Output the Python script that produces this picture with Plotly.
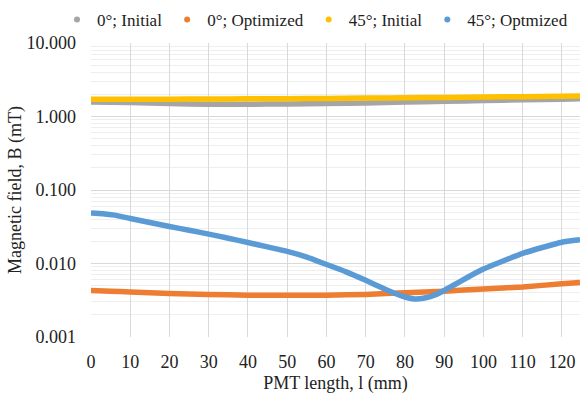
import plotly.graph_objects as go

# PMT length positions (mm)
x_init = [0, 10, 20, 30, 40, 50, 60, 70, 80, 90, 100, 110, 120, 124.6]
b0_initial = [1.58, 1.55, 1.50, 1.47, 1.47, 1.48, 1.50, 1.53, 1.57, 1.61, 1.65, 1.69, 1.72, 1.74]
b45_initial = [1.72, 1.72, 1.72, 1.73, 1.74, 1.75, 1.76, 1.78, 1.80, 1.82, 1.84, 1.86, 1.89, 1.90]

x_opt0 = [0, 5, 10, 20, 30, 40, 50, 60, 70, 80, 90, 100, 110, 120, 124.6]
b0_opt = [0.0043, 0.0042, 0.0041, 0.0039, 0.0038, 0.0037, 0.0037, 0.0037, 0.0038, 0.0040,
          0.0042, 0.0045, 0.0048, 0.0053, 0.0055]

x_opt45 = [0, 3, 6, 10, 15, 20, 25, 30, 35, 40, 45, 50, 55, 60, 65, 70, 74, 77, 80, 82.5,
           85, 87.5, 90, 92.5, 96, 100, 105, 110, 115, 120, 124.6]
b45_opt = [0.0485, 0.0475, 0.0455, 0.0410, 0.0362, 0.0319, 0.0284, 0.0251, 0.0221, 0.0193,
           0.0168, 0.0146, 0.0122, 0.0097, 0.0077, 0.0059, 0.0047, 0.0040, 0.0035, 0.0033,
           0.0034, 0.0037, 0.0043, 0.0051, 0.0065, 0.0084, 0.0108, 0.0137, 0.0165, 0.0195,
           0.0210]

names = ["0°; Initial", "0°; Optimized", "45°; Initial", "45°; Optmized"]
colors = ["#A5A5A5", "#ED7D31", "#FFC000", "#5B9BD5"]
xs = [x_init, x_opt0, x_init, x_opt45]
ys = [b0_initial, b0_opt, b45_initial, b45_opt]

FONT = "Liberation Serif"
FS = 18
W, H = 580, 394
ML, MR, MT, MB = 91, 0, 43, 57
fig = go.Figure()
for name, c, xv, yv in zip(names, colors, xs, ys):
    fig.add_trace(go.Scatter(x=xv, y=yv, mode="lines", name=name,
                             line=dict(color=c, width=5.5, shape="spline", smoothing=0.4),
                             showlegend=False))
for name, c in zip(names, colors):
    fig.add_trace(go.Scatter(x=[None], y=[None], mode="markers", name=name,
                             marker=dict(color=c, size=6)))

fig.update_layout(
    width=W, height=H,
    margin=dict(l=ML, r=MR, t=MT, b=MB),
    paper_bgcolor="white", plot_bgcolor="white",
    font=dict(family=FONT, size=FS, color="#222222"),
    legend=dict(orientation="h", x=(57 - ML) / (W - ML - MR), xanchor="left",
                y=1 + (MT - 20) / (H - MT - MB), yanchor="middle",
                font=dict(family=FONT, size=17, color="#222222"),
                itemwidth=30, bgcolor="rgba(0,0,0,0)", borderwidth=0),
    xaxis=dict(range=[0, 124.6], dtick=10, tick0=0, showgrid=True, gridcolor="#D9D9D9",
               gridwidth=1, zeroline=False, showline=False, ticks="",
               tickfont=dict(family=FONT, size=FS, color="#222222"),
               ticklabelstandoff=12,
               title=dict(text="PMT length, l (mm)", standoff=5,
                          font=dict(family=FONT, size=FS, color="#222222"))),
    yaxis=dict(type="log", range=[-3, 1], dtick=1, tickformat=".3f",
               showgrid=True, gridcolor="#D9D9D9", gridwidth=1, zeroline=False,
               showline=False, ticks="", ticklabelstandoff=14,
               tickfont=dict(family=FONT, size=FS, color="#222222"),
               minor=dict(dtick="D1", showgrid=True, gridcolor="#EEEEEE", gridwidth=1),
               title=dict(text="Magnetic field, B (mT)", standoff=0,
                          font=dict(family=FONT, size=FS, color="#222222"))),
)
fig.write_html("out.html")
